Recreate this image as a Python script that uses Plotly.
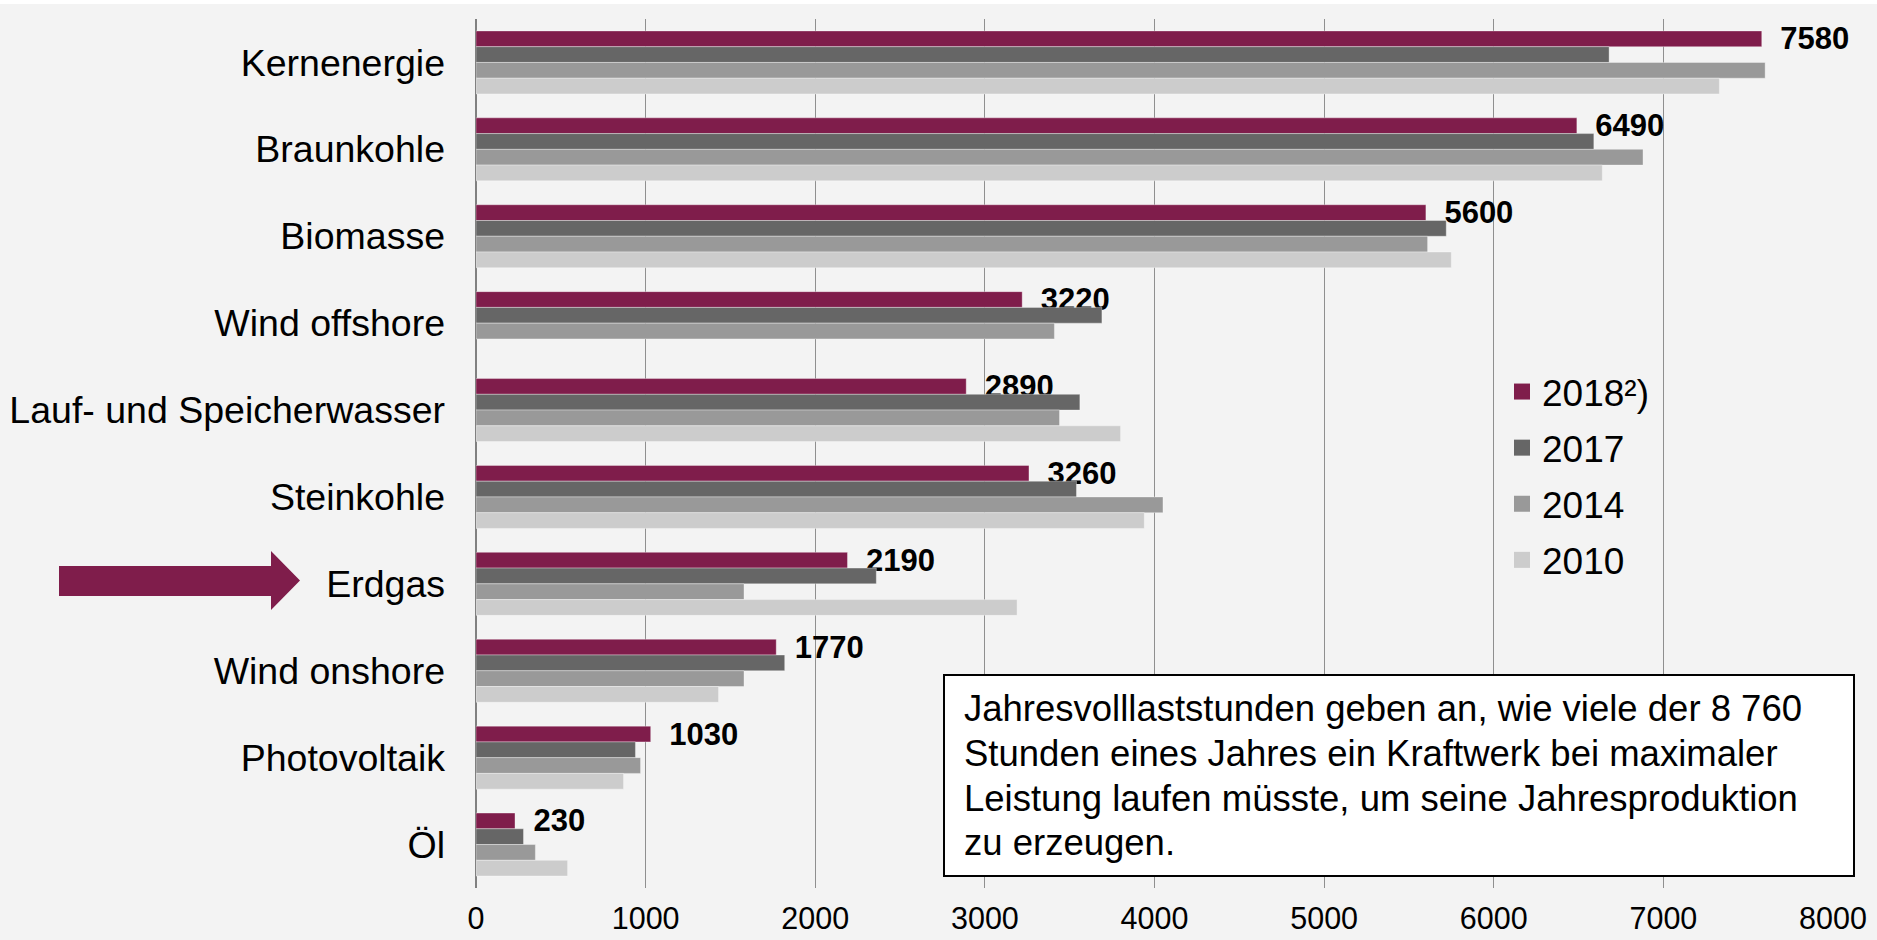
import plotly.graph_objects as go

categories = ["Kernenergie", "Braunkohle", "Biomasse", "Wind offshore",
              "Lauf- und Speicherwasser", "Steinkohle", "Erdgas",
              "Wind onshore", "Photovoltaik", "Öl"]
years = ["2018²)", "2017", "2014", "2010"]
v2018 = [7580, 6490, 5600, 3220, 2890, 3260, 2190, 1770, 1030, 230]
v2017 = [6680, 6590, 5720, 3690, 3560, 3540, 2360, 1820, 940, 280]
v2014 = [7600, 6880, 5610, 3410, 3440, 4050, 1580, 1580, 970, 350]
v2010 = [7330, 6640, 5750, None, 3800, 3940, 3190, 1430, 870, 540]
series = [v2018, v2017, v2014, v2010]
colors = ["#7f1d4b", "#666666", "#999999", "#cccccc"]
xticks = [0, 1000, 2000, 3000, 4000, 5000, 6000, 7000, 8000]
note_lines = ["Jahresvolllaststunden geben an, wie viele der 8 760",
              "Stunden eines Jahres ein Kraftwerk bei maximaler",
              "Leistung laufen müsste, um seine Jahresproduktion",
              "zu erzeugen."]

FONT = "Liberation Sans, Arial, sans-serif"
W, H = 1877, 940
L, R, T, B = 476, 44, 19, 52
PW, PH = W - L - R, H - T - B


def px(x):
    return (x - L) / PW


def py(y):
    return (H - B - y) / PH


fig = go.Figure()
for i, (name, vals, col) in enumerate(zip(years, series, colors)):
    kw = {}
    if i == 0:
        kw = dict(text=[f"\u2002{v}" for v in vals], textposition="outside",
                  textfont=dict(size=31, color="black", family=FONT, weight="bold"),
                  constraintext="none", cliponaxis=False)
    fig.add_trace(go.Bar(
        y=categories, x=vals, orientation="h", name=name,
        marker=dict(color=col, line=dict(color="rgba(255,255,255,0.35)", width=1)),
        showlegend=False, hoverinfo="x+y", **kw))

for name, col in zip(years, colors):
    fig.add_trace(go.Scatter(
        x=[None], y=[None], mode="markers", name=name, legendgroup=name,
        marker=dict(symbol="square", size=19, color=col), showlegend=True))

line_y = [708.5, 753.5, 798, 842.5]
annotations = [dict(
    text=t, xref="paper", yref="paper", x=px(962), y=py(yy),
    xanchor="left", yanchor="middle", align="left", showarrow=False,
    font=dict(size=36.5, color="black")) for t, yy in zip(note_lines, line_y)]

fig.update_layout(
    width=W, height=H,
    margin=dict(l=L, r=R, t=T, b=B, pad=0),
    paper_bgcolor="#f3f3f3", plot_bgcolor="#f3f3f3",
    font=dict(family=FONT, color="black"),
    barmode="group", bargap=0.275, bargroupgap=0,
    xaxis=dict(range=[0, 8000], tickvals=xticks, ticktext=[str(t) for t in xticks],
               showgrid=True, gridcolor="#8f8f8f", gridwidth=1,
               zeroline=True, zerolinecolor="#808080", zerolinewidth=2,
               tickfont=dict(size=30.5), ticks="", ticklabelstandoff=9,
               automargin=False, fixedrange=True),
    yaxis=dict(categoryorder="array", categoryarray=categories, autorange="reversed",
               tickfont=dict(size=37.5), ticks="", ticklabelstandoff=30,
               showgrid=False, zeroline=False, automargin=False, fixedrange=True),
    legend=dict(x=px(1502), y=py(361), xanchor="left", yanchor="top",
                font=dict(size=37), bgcolor="rgba(0,0,0,0)",
                traceorder="grouped", tracegroupgap=5, itemclick=False),
    shapes=[
        dict(type="rect", xref="paper", yref="paper", x0=px(0), x1=px(W),
             y0=py(4), y1=py(0), fillcolor="white", line=dict(width=0), layer="below"),
        dict(type="path", xref="paper", yref="paper",
             path=(f"M{px(59)},{py(566)} L{px(271)},{py(566)} L{px(271)},{py(551)} "
                   f"L{px(300)},{py(580.5)} L{px(271)},{py(610)} L{px(271)},{py(596)} "
                   f"L{px(59)},{py(596)} Z"),
             fillcolor="#7f1d4b", line=dict(width=0)),
        dict(type="rect", xref="paper", yref="paper", x0=px(944), x1=px(1854),
             y0=py(876), y1=py(675), fillcolor="white",
             line=dict(color="black", width=2), layer="above"),
    ],
    annotations=annotations,
)

fig.write_html("out.html", config={"displayModeBar": False},
               post_script="document.body.style.margin='0';document.body.style.overflow='hidden';")
